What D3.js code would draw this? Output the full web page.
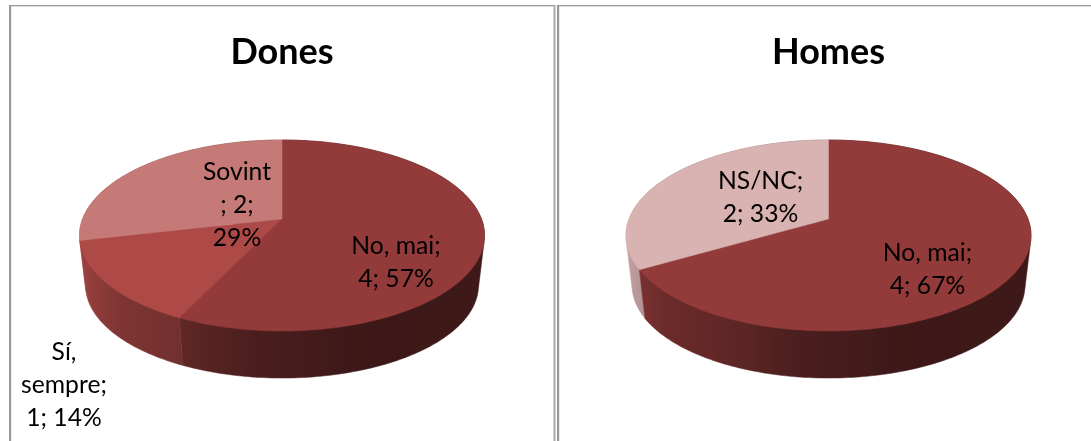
<!DOCTYPE html>
<html>
<head>
<meta charset="utf-8">
<script src="https://cdn.jsdelivr.net/npm/d3@7"></script>
<style>
  html, body { margin: 0; padding: 0; background: #fff; }
  svg { display: block; filter: blur(0.4px); }
  text { font-family: Lato, "Open Sans", sans-serif; fill: #000; }
  .title { font-weight: 700; font-size: 36px; text-anchor: middle; }
  .label { font-size: 24.7px; text-anchor: middle; }
</style>
</head>
<body>
<div id="chart"></div>
<script>
// data
var donesNames = ["No, mai", "Sí, sempre", "Sovint"];
var donesValues = [4, 1, 2];
var donesLabels = [["No, mai;", "4; 57%"], ["Sí,", "sempre;", "1; 14%"], ["Sovint", "; 2;", "29%"]];

var homesNames = ["No, mai", "NS/NC"];
var homesValues = [4, 2];
var homesLabels = [["No, mai;", "4; 67%"], ["NS/NC;", "2; 33%"]];

// styles and layout, kept apart from the values
var donesColors = ["#923b3a", "#ad4946", "#c57a78"];
var homesColors = ["#923b3a", "#d9b2b2"];
var donesLabelPos = [[396, 245], [64, 351], [237, 171]];
var homesLabelPos = [[927.5, 252], [760.5, 180]];

var width = 1091, height = 441;
var lineGap = 33.3;

var svg = d3.select("#chart").append("svg")
  .attr("width", width)
  .attr("height", height);
var defs = svg.append("defs");

// wall shading against the clockwise angle from 12 o'clock
var shade = d3.scaleLinear()
  .domain([90, 130, 160, 188, 206, 225, 240, 250, 270])
  .range([0.44, 0.42, 0.41, 0.52, 0.66, 0.73, 0.84, 0.9, 0.92])
  .clamp(true);

// tilted disc: the far side shrinks, so the apex sits above the ellipse centre
var tilt = 0.1728, radiusY = 92.65, radiusX = 199.5;
var wallScale = 0.97, wallDrop = 50.4;

function project(cx, cy, a, scale, dropY) {
  var u = Math.sin(a), v = -Math.cos(a), p = 1 - tilt * v;
  return [cx + scale * radiusX * u / p, cy + dropY + scale * radiusY * v / p];
}

function sampleAngles(start, end) {
  var n = Math.ceil((end - start) * 60);
  return d3.range(n + 1).map(function(s) { return start + (end - start) * s / n; });
}

// left to right gradient for the wall of one slice
function wallGradient(gid, cx, cy, color) {
  var c = d3.rgb(color);
  var x1 = project(cx, cy, Math.PI * 1.5, 1, 0)[0];
  var x2 = project(cx, cy, Math.PI * 0.5, 1, 0)[0];
  var grad = defs.append("linearGradient")
    .attr("id", gid)
    .attr("gradientUnits", "userSpaceOnUse")
    .attr("x1", x1).attr("x2", x2).attr("y1", 0).attr("y2", 0);
  // walk the front half from left (270 deg) to right (90 deg)
  d3.range(270, 89, -3).forEach(function(deg) {
    var x = project(cx, cy, deg * Math.PI / 180, 1, 0)[0];
    var f = shade(deg);
    grad.append("stop")
      .attr("offset", (x - x1) / (x2 - x1))
      .attr("stop-color", d3.rgb(c.r * f, c.g * f, c.b * f).formatHex());
  });
  return "url(#" + gid + ")";
}

function drawPie(id, cx, cy, title, names, values, colors, labels, labelPos) {
  var g = svg.append("g");
  var arcs = d3.pie().sort(null)(values);
  var line = d3.line();

  arcs.forEach(function(d, i) {
    d.fill = wallGradient(id + "-wall-" + i, cx, cy, colors[i]);
    d.color = colors[i];
  });

  // side wall: hull of the upper and lower rim of each slice, far slices first.
  // the inner part of each hull ends up hidden under the top face
  var wallOrder = arcs.slice().sort(function(p, q) {
    return Math.cos((q.startAngle + q.endAngle) / 2) - Math.cos((p.startAngle + p.endAngle) / 2);
  });

  g.selectAll(".wall").data(wallOrder).enter().append("path")
    .attr("class", "wall")
    .attr("d", function(d) {
      var angles = sampleAngles(d.startAngle, d.endAngle);
      var upper = angles.map(function(a) { return project(cx, cy, a, 1, 0); });
      var lower = angles.map(function(a) { return project(cx, cy, a, wallScale, wallDrop); });
      return line(d3.polygonHull(upper.concat(lower))) + "Z";
    })
    .attr("fill", function(d) { return d.fill; })
    .attr("stroke", function(d) { return d.fill; })
    .attr("stroke-width", 0.5);

  // top face
  g.selectAll(".slice").data(arcs).enter().append("path")
    .attr("class", "slice")
    .attr("d", function(d) {
      var pts = sampleAngles(d.startAngle, d.endAngle).map(function(a) { return project(cx, cy, a, 1, 0); });
      return line([[cx, cy]].concat(pts)) + "Z";
    })
    .attr("fill", function(d) { return d.color; })
    .attr("stroke", function(d) { return d.color; })
    .attr("stroke-width", 0.5);

  // data labels
  labels.forEach(function(lines, i) {
    var t = g.append("text").attr("class", "label").datum(names[i]);
    lines.forEach(function(txt, k) {
      t.append("tspan")
        .attr("x", labelPos[i][0])
        .attr("y", labelPos[i][1] + k * lineGap)
        .attr("dy", "0.35em")
        .text(txt);
    });
  });

  g.append("text")
    .attr("class", "title")
    .attr("x", cx)
    .attr("y", 51)
    .attr("dy", "0.35em")
    .text(title);
}

// table borders around the two charts
var borders = [
  { x: 9, y: 5, w: 546, h: 1.3, c: "#999" },
  { x: 9, y: 5, w: 2.2, h: 436, c: "#999" },
  { x: 553.5, y: 5, w: 2, h: 436, c: "#aaa" },
  { x: 557, y: 5, w: 534, h: 1.3, c: "#999" },
  { x: 557, y: 5, w: 2.2, h: 436, c: "#999" }
];
svg.selectAll(".border").data(borders).enter().append("rect")
  .attr("class", "border")
  .attr("x", function(d) { return d.x; })
  .attr("y", function(d) { return d.y; })
  .attr("width", function(d) { return d.w; })
  .attr("height", function(d) { return d.h; })
  .attr("fill", function(d) { return d.c; });

drawPie("dones", 282, 219, "Dones", donesNames, donesValues, donesColors, donesLabels, donesLabelPos);
drawPie("homes", 828.5, 219, "Homes", homesNames, homesValues, homesColors, homesLabels, homesLabelPos);
</script>
</body>
</html>
